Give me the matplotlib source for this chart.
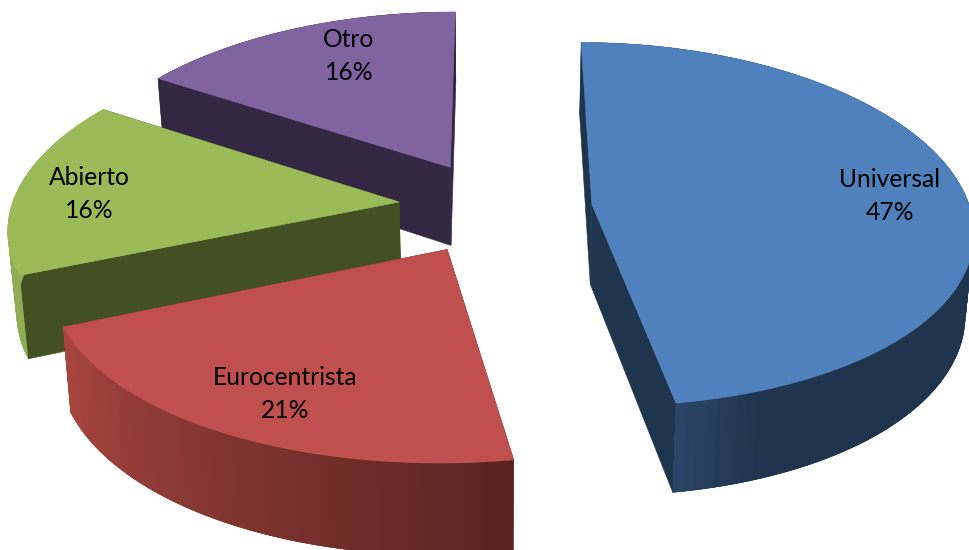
import numpy as np
import matplotlib
matplotlib.use("Agg")
import matplotlib.pyplot as plt
from matplotlib.colors import to_rgb
from matplotlib.patches import Polygon

categories = ["Universal", "Eurocentrista", "Abierto", "Otro"]
# shown rounded on the labels: 47, 21, 16, 16
values = [47.4, 21.2, 15.6, 15.8]
top_colors = ["#4F81BD", "#C0504D", "#9BBB59", "#8064A2"]
side_colors = ["#1F344D", "#5A2420", "#435122", "#342742"]
# wall colour at the start and at the end of the arc
wall_start = ["#1F344D", "#5A2420", "#8FAD53", "#342742"]
wall_end = ["#2B4465", "#A8463F", "#8FAD53", "#342742"]
label_xy = [(890, 196), (285, 394), (89, 194), (349, 56)]
nudge = [(1, 3), (-3, 4), (-4, 1), (-3, 1)]
stretch = [1.0, 1.01, 1.025, 1.025]

# perspective of the pie, in pixels
cx, cy = 497, 205
R = 378
explode = 0.25
q = 0.11
qx = 0.13
horizon = cy - 1640
height = 80
squeeze = 0.018


def project(X, Y, down=0.0):
    x = cx + X * R / (1 + qx * Y)
    y = horizon + (cy - horizon + down) / (1 + q * Y)
    if down:
        x = cx + (x - cx) * (1 - squeeze)
    return x, y


fig = plt.figure(figsize=(9.69, 5.5), dpi=100)
ax = fig.add_axes([0, 0, 1, 1])
ax.set_xlim(0, 969)
ax.set_ylim(550, 0)
ax.axis("off")

shares = np.array(values) / sum(values) * 2 * np.pi
starts = np.concatenate([[0], np.cumsum(shares)[:-1]])


def add_poly(pts, color, z, lw=0.4):
    ax.add_patch(Polygon(pts, closed=True, facecolor=color, edgecolor=color, lw=lw, zorder=z))


# back slices first, so the nearer ones cover them
for z, i in enumerate([3, 2, 0, 1]):
    a0, a1 = starts[i], starts[i] + shares[i]
    mid = (a0 + a1) / 2
    ex, ey = explode * np.sin(mid), explode * np.cos(mid)
    t = np.linspace(a0, a1, 120)
    X = ex + stretch[i] * np.sin(t)
    Y = ey + np.cos(t)
    dx, dy = nudge[i]
    tx, ty = project(X, Y)
    bx, by = project(X, Y, height)
    ax0, ay0 = project(ex, ey)
    bx0, by0 = project(ex, ey, height)
    tx, bx, ax0, bx0 = tx + dx, bx + dx, ax0 + dx, bx0 + dx
    ty, by, ay0, by0 = ty + dy, by + dy, ay0 + dy, by0 + dy

    base = z * 10
    add_poly([(ax0, ay0), (tx[0], ty[0]), (bx[0], by[0]), (bx0, by0)], side_colors[i], base)
    add_poly([(ax0, ay0), (tx[-1], ty[-1]), (bx[-1], by[-1]), (bx0, by0)], side_colors[i], base)

    c0, c1 = np.array(to_rgb(wall_start[i])), np.array(to_rgb(wall_end[i]))
    n = len(t)
    for k in range(n - 1):
        f = k / (n - 2)
        if i == 0:
            # the blue wall only lightens near its front corner
            f = max(0, (f - 0.93) / 0.07)
        col = c0 + (c1 - c0) * f
        # each strip runs past its own end, the next one paints over it
        idx = list(range(k, min(k + 4, n)))
        pts = [(tx[j], ty[j]) for j in idx] + [(bx[j], by[j]) for j in idx[::-1]]
        add_poly(pts, col, base + 1, lw=0)

    add_poly(np.vstack([[ax0, ay0], np.column_stack([tx, ty])]), top_colors[i], base + 2)

for name, val, (x, y) in zip(categories, values, label_xy):
    ax.text(x, y, "%s\n%.0f%%" % (name, val), ha="center", va="center", fontsize=17.7,
            family="Lato", color="black", linespacing=1.55, zorder=100)

fig.savefig("out.png", dpi=100)
